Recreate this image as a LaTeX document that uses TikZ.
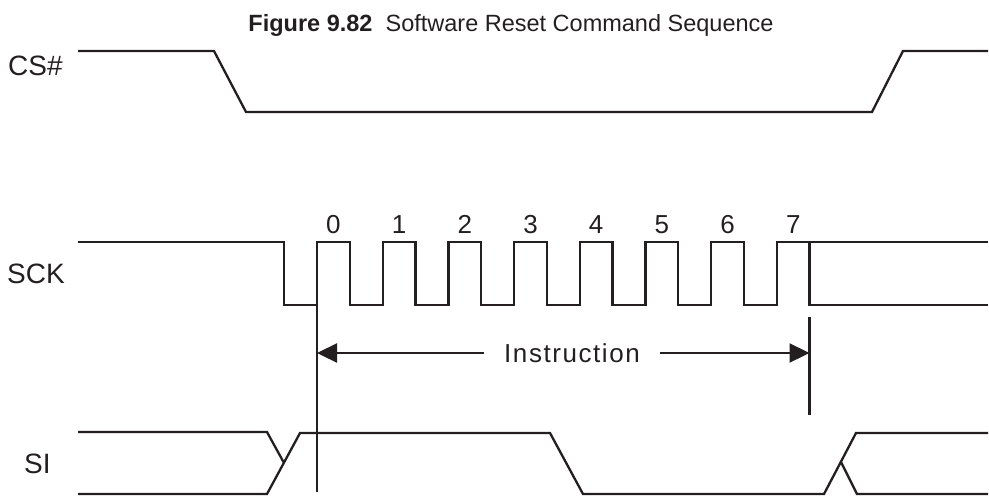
\documentclass[tikz,border=0pt]{standalone}
\usepackage{fontspec}
\setmainfont{Liberation Sans}
\usepackage{tikz}
\usetikzlibrary{arrows.meta,calc}

\definecolor{ink}{HTML}{231F20}

\begin{document}
\begin{tikzpicture}[x=1pt,y=-1pt,
  wave/.style={ink,line width=2.3pt},
  marker/.style={ink,line width=2.3pt},
  dim/.style={ink,line width=2.3pt,-{Triangle[length=20pt,width=19pt]}},
  siglab/.style={font=\fontsize{28}{31}\selectfont,text=ink,anchor=base west,inner sep=0pt},
  bitnum/.style={font=\fontsize{26}{29}\selectfont,text=ink,anchor=base,inner sep=0pt},
  caption/.style={font=\fontsize{23.5}{26}\selectfont,text=ink,anchor=base,inner sep=0pt},
]
\useasboundingbox (0,0) rectangle (989,496);

% Title
\node[caption] (title) at (511,31) {\textbf{Figure 9.82}\ \ Software Reset Command Sequence};

% CS#
\node[siglab] (cs) at (8,75) {CS\#};
\draw[wave] (78,51) -- (214,51) -- (246,112) -- (872,112) -- (903,51) -- (988,51);

% SCK with eight clock pulses
\node[siglab] (sck) at (7,283) {SCK};
\draw[wave] (78,242) -- (284,242) -- (284,305) -- (317,305)
  \foreach \k in {0,...,6} {-- ++(0,-63) -- ++(32.8,0) -- ++(0,63) -- ++(32.9,0)}
  -- ++(0,-63) -- (988,242);
\draw[wave] (809.5,242) -- (809.5,305) -- (988,305);
\foreach \k in {0,...,7}
  \node[bitnum] (b\k) at ({333.4+65.7*\k},233) {\k};

% Instruction markers
\coordinate (mLtop) at (317,305);
\coordinate (mLbot) at (317,492);
\coordinate (mRtop) at (809.5,317);
\coordinate (mRbot) at (809.5,415);
\draw[marker] (mLtop) -- (mLbot);
\draw[marker] (mRtop) -- (mRbot);

\node[font=\fontsize{26}{29}\selectfont\addfontfeatures{LetterSpace=6},text=ink,inner xsep=20pt,inner ysep=0pt] (instr) at (572,353) {Instruction};
\draw[dim] (instr.west) -- (instr.west -| mLtop);
\draw[dim] (instr.east) -- (instr.east -| mRtop);

% SI
\node[siglab] (si) at (24,473) {SI};
\draw[wave] (78,432) -- (267,432) -- (283.5,462);
\draw[wave] (78,494) -- (267,494) -- (300,433) -- (550,433) -- (583,494) -- (824,494) -- (856,433) -- (988,433);
\draw[wave] (841,462) -- (857,494) -- (988,494);

\end{tikzpicture}
\end{document}
